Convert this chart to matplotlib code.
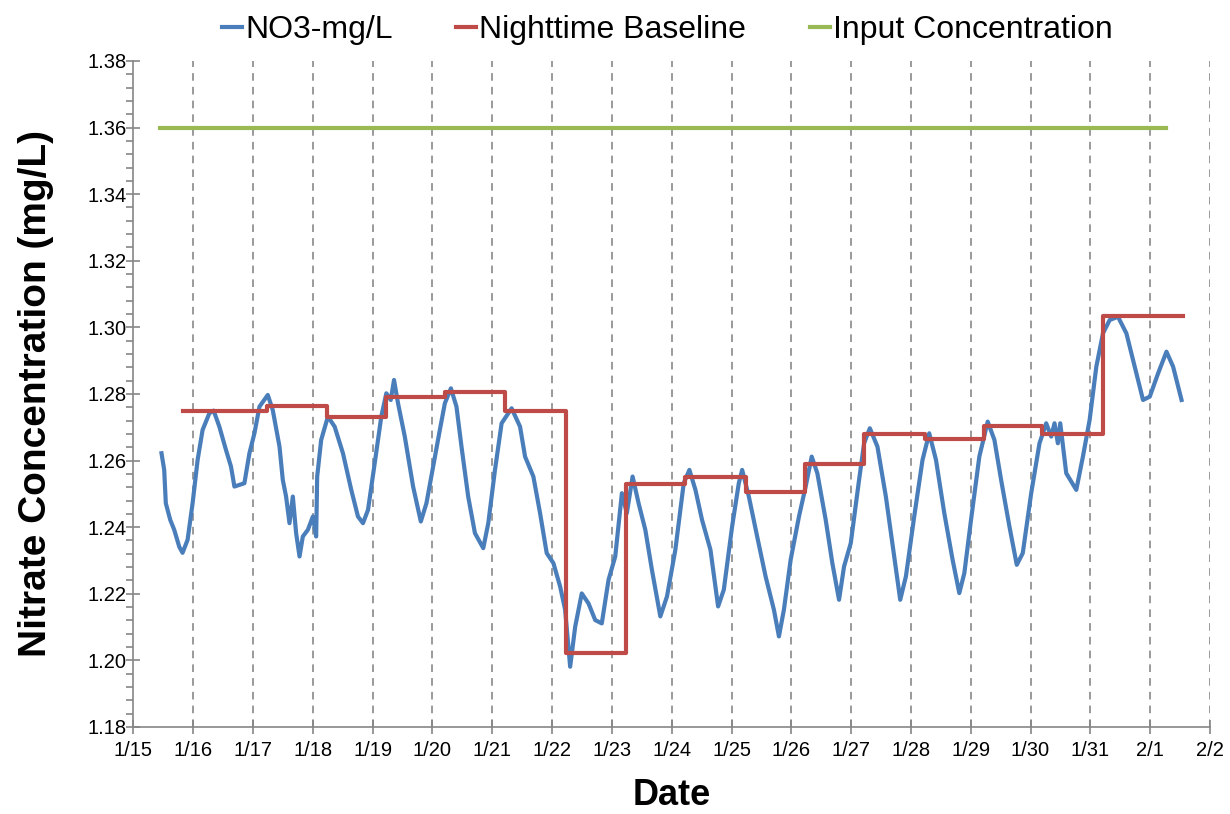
import matplotlib.pyplot as plt
from matplotlib.ticker import MultipleLocator, FormatStrFormatter

# Days since 1/15 00:00 and nitrate readings (mg/L)
no3_days = [0.469, 0.514, 0.541, 0.615, 0.682, 0.766, 0.821, 0.905, 0.989, 1.073,
            1.156, 1.269, 1.341, 1.436, 1.547, 1.631, 1.688, 1.771, 1.855, 1.939,
            2.023, 2.107, 2.246, 2.329, 2.442, 2.497, 2.552, 2.609, 2.665, 2.720,
            2.777, 2.832, 2.916, 3.000, 3.055, 3.072, 3.139, 3.251, 3.364, 3.503,
            3.642, 3.754, 3.838, 3.922, 4.034, 4.144, 4.228, 4.302, 4.357, 4.424,
            4.537, 4.592, 4.676, 4.805, 4.899, 5.011, 5.123, 5.207, 5.308, 5.401,
            5.485, 5.597, 5.710, 5.849, 5.933, 6.045, 6.156, 6.323, 6.464, 6.548,
            6.687, 6.799, 6.910, 7.022, 7.134, 7.218, 7.302, 7.386, 7.496, 7.609,
            7.721, 7.831, 7.944, 8.056, 8.167, 8.250, 8.346, 8.446, 8.559, 8.669,
            8.810, 8.921, 9.061, 9.201, 9.296, 9.397, 9.507, 9.648, 9.776, 9.871,
            10.010, 10.122, 10.178, 10.290, 10.429, 10.570, 10.709, 10.793, 10.876, 10.989,
            11.128, 11.240, 11.341, 11.435, 11.575, 11.686, 11.798, 11.882, 11.994, 12.133,
            12.217, 12.313, 12.440, 12.581, 12.720, 12.821, 12.916, 13.055, 13.194, 13.306,
            13.419, 13.558, 13.697, 13.809, 13.893, 14.005, 14.144, 14.284, 14.396, 14.508,
            14.647, 14.770, 14.870, 15.011, 15.150, 15.262, 15.346, 15.401, 15.457, 15.497,
            15.597, 15.765, 15.876, 15.988, 16.100, 16.211, 16.323, 16.462, 16.603, 16.714,
            16.881, 16.994, 17.133, 17.273, 17.384, 17.525]
no3_vals = [1.2622, 1.2572, 1.2472, 1.2422, 1.2392, 1.2341, 1.2323, 1.2362, 1.2472, 1.2602,
            1.2692, 1.2742, 1.2750, 1.2702, 1.2632, 1.2582, 1.2522, 1.2527, 1.2532, 1.2622,
            1.2682, 1.2762, 1.2797, 1.2752, 1.2642, 1.2542, 1.2492, 1.2412, 1.2492, 1.2382,
            1.2312, 1.2372, 1.2392, 1.2432, 1.2372, 1.2552, 1.2662, 1.2732, 1.2702, 1.2622,
            1.2512, 1.2432, 1.2412, 1.2452, 1.2592, 1.2732, 1.2802, 1.2782, 1.2842, 1.2772,
            1.2672, 1.2612, 1.2522, 1.2417, 1.2472, 1.2582, 1.2692, 1.2772, 1.2817, 1.2762,
            1.2642, 1.2492, 1.2382, 1.2337, 1.2412, 1.2572, 1.2712, 1.2757, 1.2702, 1.2612,
            1.2552, 1.2442, 1.2322, 1.2292, 1.2222, 1.2152, 1.1981, 1.2101, 1.2201, 1.2171,
            1.2121, 1.2111, 1.2242, 1.2312, 1.2502, 1.2442, 1.2552, 1.2472, 1.2392, 1.2272,
            1.2132, 1.2192, 1.2332, 1.2532, 1.2572, 1.2512, 1.2422, 1.2332, 1.2162, 1.2212,
            1.2402, 1.2532, 1.2572, 1.2492, 1.2372, 1.2252, 1.2152, 1.2072, 1.2152, 1.2302,
            1.2432, 1.2522, 1.2612, 1.2562, 1.2422, 1.2292, 1.2182, 1.2282, 1.2352, 1.2542,
            1.2652, 1.2697, 1.2642, 1.2492, 1.2312, 1.2182, 1.2252, 1.2432, 1.2602, 1.2682,
            1.2602, 1.2442, 1.2302, 1.2202, 1.2262, 1.2422, 1.2612, 1.2717, 1.2662, 1.2542,
            1.2402, 1.2287, 1.2322, 1.2502, 1.2652, 1.2712, 1.2672, 1.2712, 1.2652, 1.2712,
            1.2562, 1.2512, 1.2612, 1.2722, 1.2882, 1.2982, 1.3022, 1.3032, 1.2982, 1.2902,
            1.2782, 1.2792, 1.2862, 1.2927, 1.2882, 1.2782]

# Nighttime baseline: step start times (days) and levels
base_days = [0.83, 2.23, 3.23, 4.22, 5.21, 6.22, 7.24, 8.23, 9.23, 10.24,
             11.23, 12.22, 13.23, 14.23, 15.20, 16.21, 17.55]
base_vals = [1.2749, 1.2764, 1.2732, 1.2790, 1.2805, 1.2750, 1.2021, 1.2529, 1.2552, 1.2505,
             1.2589, 1.2680, 1.2664, 1.2704, 1.2680, 1.3034, 1.3034]

# Input concentration
input_days = [0.44, 17.27]
input_vals = [1.36, 1.36]

date_labels = ['1/15', '1/16', '1/17', '1/18', '1/19', '1/20', '1/21', '1/22', '1/23', '1/24',
               '1/25', '1/26', '1/27', '1/28', '1/29', '1/30', '1/31', '2/1', '2/2']

plt.rcParams['font.family'] = ['Liberation Sans', 'DejaVu Sans']

fig = plt.figure(figsize=(12.3, 8.14), dpi=100)
ax = fig.add_axes([0.1085, 0.1069, 0.8752, 0.8182])

ax.plot(no3_days, no3_vals, color='#4A7EBB', lw=3.0, label='NO3-mg/L', zorder=3)
ax.step(base_days, base_vals, where='post', color='#BE4B48', lw=3.0,
        label='Nighttime Baseline', zorder=4)
ax.plot(input_days, input_vals, color='#98B954', lw=3.0, label='Input Concentration', zorder=3)

ax.set_xlim(0, len(date_labels) - 1)
ax.set_ylim(1.18, 1.38)
ax.set_xticks(range(len(date_labels)))
ax.set_xticklabels(date_labels)
ax.yaxis.set_major_locator(MultipleLocator(0.02))
ax.yaxis.set_minor_locator(MultipleLocator(0.004))
ax.yaxis.set_major_formatter(FormatStrFormatter('%.2f'))

# vertical dashed gridlines at each day
for d in range(1, len(date_labels)):
    ax.axvline(d, color='#7F7F7F', lw=1.1, ls=(0, (5, 4)), zorder=1)

for side in ['top', 'right']:
    ax.spines[side].set_visible(False)
for side in ['left', 'bottom']:
    ax.spines[side].set_color('#868686')
    ax.spines[side].set_linewidth(1.2)

ax.tick_params(axis='both', which='major', direction='inout', length=10,
               color='#868686', width=1.2, labelsize=14.5, pad=0)
ax.tick_params(axis='x', which='major', pad=5)
ax.tick_params(axis='y', which='minor', direction='out', length=5,
               color='#868686', width=1.2)

ax.set_ylabel('Nitrate Concentration (mg/L)', fontsize=28, fontweight='bold')
ax.yaxis.set_label_coords(-0.074, 0.5)
ax.set_xlabel('Date', fontsize=26, fontweight='bold', labelpad=13)

ax.legend(loc='lower center', bbox_to_anchor=(0.496, 1.0), ncol=3, frameon=False,
          fontsize=23, handlelength=0.62, handletextpad=0.1, columnspacing=2.0,
          borderaxespad=0.1)

fig.savefig('out.png', dpi=100)
